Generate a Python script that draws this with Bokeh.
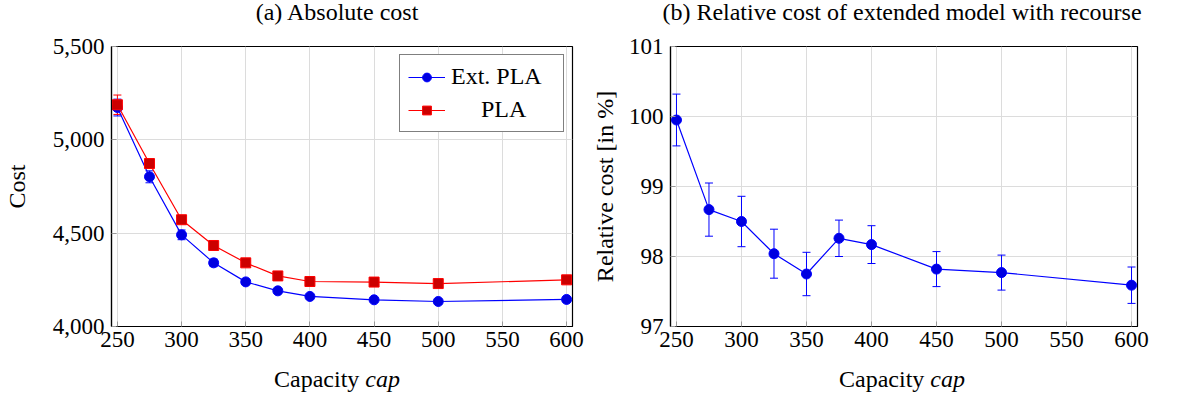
from bokeh.plotting import figure
from bokeh.layouts import row, column
from bokeh.models import (FixedTicker, NumeralTickFormatter, Whisker, ColumnDataSource,
                          Range1d, TeeHead, Div, Spacer, InlineStyleSheet)
from bokeh.embed import file_html
from bokeh.resources import INLINE

# ---- data ----
cap = [250, 275, 300, 325, 350, 375, 400, 450, 500, 600]
ext_pla_cost = [5173, 4802, 4491, 4341, 4239, 4191, 4161, 4143, 4134, 4145]
ext_pla_err = [45, 32, 26, 20, 15, 12, 10, 8, 8, 8]
pla_cost = [5188, 4873, 4572, 4434, 4341, 4271, 4241, 4238, 4230, 4250]
pla_err = [52, 20, 16, 14, 12, 10, 8, 8, 8, 8]
rel_cost = [99.95, 98.67, 98.50, 98.04, 97.75, 98.26, 98.17, 97.82, 97.77, 97.59]
rel_err = [0.37, 0.38, 0.36, 0.35, 0.31, 0.26, 0.27, 0.25, 0.25, 0.26]

x_ticks = [250, 300, 350, 400, 450, 500, 550, 600]
cost_ticks = [4000, 4500, 5000, 5500]
rel_ticks = [97, 98, 99, 100, 101]

title_a = "(a) Absolute cost"
title_b = "(b) Relative cost of extended model with recourse"
xlabel_html = "Capacity <i>cap</i>"

FONT = "Liberation Serif"
TICK_FS = "23px"
LAB_FS = "24px"
BLUE = "#0000ff"
BLUE_FILL = "#0000e0"
RED = "#ff0000"
RED_FILL = "#cc0000"

CSS = InlineStyleSheet(css="""
:host, :host * { font-family: 'Liberation Serif', serif !important; color: black; }
.txt { font-size: 24px !important; text-align: center; white-space: nowrap; margin: 0; padding: 0; }
.txt i { font-style: italic; }
""")


def text_div(html, width, height, line_h):
    return Div(text='<div class="txt" style="width:%dpx; line-height:%dpx;">%s</div>'
                    % (width, line_h, html),
               width=width, height=height, margin=0, stylesheets=[CSS],
               styles={"overflow": "visible"})


def style(p, yticks):
    p.outline_line_color = "black"
    p.outline_line_width = 1.2
    p.outline_line_alpha = 1
    p.xaxis.ticker = FixedTicker(ticks=x_ticks)
    p.yaxis.ticker = FixedTicker(ticks=yticks)
    p.xgrid.ticker = FixedTicker(ticks=x_ticks)
    p.ygrid.ticker = FixedTicker(ticks=yticks)
    for ax in (p.xaxis[0], p.yaxis[0]):
        ax.axis_line_color = "black"
        ax.axis_line_width = 1.2
        ax.major_tick_in = 5
        ax.major_tick_out = 0
        ax.minor_tick_in = 0
        ax.minor_tick_out = 0
        ax.major_tick_line_color = "#999999"
        ax.major_label_text_font = FONT
        ax.major_label_text_font_size = TICK_FS
        ax.major_label_text_color = "black"
        ax.axis_label_text_font = FONT
        ax.axis_label_text_font_size = LAB_FS
        ax.axis_label_text_font_style = "normal"
        ax.axis_label_text_color = "black"
    p.xaxis.major_label_standoff = 5
    p.yaxis.major_label_standoff = 7
    for g in (p.xgrid[0], p.ygrid[0]):
        g.grid_line_color = "#dcdcdc"
        g.grid_line_width = 1
    p.background_fill_color = "white"
    p.border_fill_color = "white"


TOP_H = 24
LAB_H = 18
FIG_H = 387 - TOP_H - LAB_H   # 345
TOP_BORDER = 54 - 8 - TOP_H   # 22
BOT_BORDER = FIG_H - TOP_BORDER - 280

# ---- left: absolute cost ----
p1 = figure(width=588, height=FIG_H, output_backend="svg", toolbar_location=None,
            x_range=Range1d(245.4, 604.6), y_range=Range1d(4000, 5500),
            min_border_left=102, min_border_right=16, min_border_top=TOP_BORDER,
            min_border_bottom=BOT_BORDER)
style(p1, cost_ticks)
p1.yaxis.axis_label = "Cost"
p1.yaxis.axis_label_standoff = 20
p1.yaxis.formatter = NumeralTickFormatter(format="0,0")

src_ext = ColumnDataSource(dict(x=cap, y=ext_pla_cost,
                                lo=[v - e for v, e in zip(ext_pla_cost, ext_pla_err)],
                                hi=[v + e for v, e in zip(ext_pla_cost, ext_pla_err)]))
src_pla = ColumnDataSource(dict(x=cap, y=pla_cost,
                                lo=[v - e for v, e in zip(pla_cost, pla_err)],
                                hi=[v + e for v, e in zip(pla_cost, pla_err)]))

for src, col in ((src_ext, BLUE), (src_pla, RED)):
    p1.add_layout(Whisker(base="x", lower="lo", upper="hi", source=src,
                          line_color=col, line_width=1,
                          upper_head=TeeHead(size=8, line_color=col, line_width=1),
                          lower_head=TeeHead(size=8, line_color=col, line_width=1)))

PLA_LABEL = "\u00a0\u00a0\u00a0\u00a0\u00a0PLA"
p1.line("x", "y", source=src_ext, line_color=BLUE, line_width=1.2, legend_label="Ext. PLA")
p1.scatter("x", "y", source=src_ext, marker="circle", size=10, fill_color=BLUE_FILL,
           line_color=BLUE, legend_label="Ext. PLA")
p1.line("x", "y", source=src_pla, line_color=RED, line_width=1.2, legend_label=PLA_LABEL)
p1.scatter("x", "y", source=src_pla, marker="square", size=10, fill_color=RED_FILL,
           line_color=RED, legend_label=PLA_LABEL)

lg = p1.legend[0]
lg.location = "top_right"
lg.margin = 8
lg.padding = 8
lg.spacing = 6
lg.glyph_width = 37
lg.glyph_height = 22
lg.label_height = 22
lg.label_width = 104
lg.label_standoff = 6
lg.label_text_font = FONT
lg.label_text_font_size = LAB_FS
lg.label_text_color = "black"
lg.border_line_color = "black"
lg.border_line_width = 1
lg.background_fill_alpha = 1

# ---- right: relative cost ----
p2 = figure(width=580, height=FIG_H, output_backend="svg", toolbar_location=None,
            x_range=Range1d(245.4, 604.6), y_range=Range1d(97, 101),
            min_border_left=79, min_border_right=31, min_border_top=TOP_BORDER,
            min_border_bottom=BOT_BORDER)
style(p2, rel_ticks)
p2.yaxis.axis_label = "Relative cost [in %]"
p2.yaxis.axis_label_standoff = 8

src_rel = ColumnDataSource(dict(x=cap, y=rel_cost,
                                lo=[v - e for v, e in zip(rel_cost, rel_err)],
                                hi=[v + e for v, e in zip(rel_cost, rel_err)]))
p2.add_layout(Whisker(base="x", lower="lo", upper="hi", source=src_rel,
                      line_color=BLUE, line_width=1,
                      upper_head=TeeHead(size=8, line_color=BLUE, line_width=1),
                      lower_head=TeeHead(size=8, line_color=BLUE, line_width=1)))
p2.line("x", "y", source=src_rel, line_color=BLUE, line_width=1.2)
p2.scatter("x", "y", source=src_rel, marker="circle", size=10, fill_color=BLUE_FILL,
           line_color=BLUE)

titles = row(Spacer(width=102, height=TOP_H, margin=0), text_div(title_a, 470, TOP_H, 24),
             Spacer(width=64, height=TOP_H, margin=0), text_div(title_b, 532, TOP_H, 24),
             spacing=0)
labels = row(Spacer(width=102, height=LAB_H, margin=0), text_div(xlabel_html, 470, LAB_H, 20),
             Spacer(width=16 + 79, height=LAB_H, margin=0), text_div(xlabel_html, 470, LAB_H, 20),
             spacing=0)
layout = column(titles, row(p1, p2, spacing=0), labels, spacing=0)
open("out.html", "w").write(file_html(layout, INLINE))
